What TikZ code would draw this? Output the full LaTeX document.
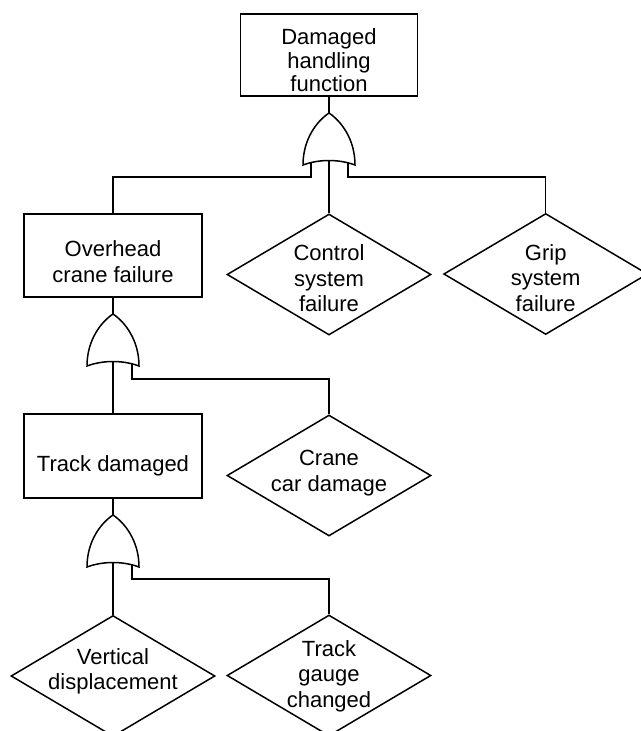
\documentclass[tikz,border=0pt]{standalone}
\usepackage{fontspec}
\setmainfont{Liberation Sans}
\usetikzlibrary{shapes.geometric}
\begin{document}
\begin{tikzpicture}[x=1pt,y=-1pt,line width=1.5pt,
  box/.style={draw, rectangle, inner sep=0pt, minimum width=178pt},
  dia/.style={draw, diamond, inner sep=0pt, aspect=1.69, minimum width=204pt, minimum height=121pt},
  txt/.style={align=center, inner sep=0pt, font=\fontsize{22}{25.5}\selectfont},
  wire/.style={line width=1.5pt},
  orgate/.pic={
    \draw[fill=white] (0,0) .. controls (-12,8) and (-26,26) .. (-26,52)
      .. controls (-10,46) and (10,46) .. (26,52)
      .. controls (26,26) and (12,8) .. (0,0) -- cycle;
    \coordinate (-top) at (0,0);
    \coordinate (-in) at (0,47.5);
    \coordinate (-l) at (-18,49.6);
    \coordinate (-r) at (19,49.6);
  }
]
\useasboundingbox (0,0) rectangle (640,731);

% boxes
\node[box, minimum width=177pt, minimum height=82pt] (top) at (329,55) {};
\node[box, minimum height=83pt] (over) at (113,255.5) {};
\node[box, minimum height=84pt] (track) at (113,456) {};

% diamonds
\node[dia] (ctrl) at (329,274.5) {};
\node[dia] (grip) at (545.7,274) {};
\node[dia] (crane) at (329,475.5) {};
\node[dia] (vert) at (113,676) {};
\node[dia] (gauge) at (329,675.5) {};

% texts
\node[txt, font=\fontsize{22}{23.3}\selectfont] (topt) at (329,60.4) {Damaged\\handling\\function};
\node[txt] (overt) at (113,261.7) {Overhead\\crane failure};
\node[txt] (trackt) at (113,465.6) {Track damaged};
\node[txt] (ctrlt) at (329,278.2) {Control\\system\\failure};
\node[txt] (gript) at (545.7,277.8) {Grip\\system\\failure};
\node[txt] (cranet) at (329,473.2) {Crane\\car damage};
\node[txt] (vertt) at (113,671.1) {Vertical\\displacement};
\node[txt] (gauget) at (329,676) {Track\\gauge\\changed};

% bus levels
\coordinate (bus1) at (0,177);
\coordinate (bus2) at (0,379);
\coordinate (bus3) at (0,579);

% gate positions
\coordinate (g1pos) at (329,113);
\coordinate (g2pos) at (113,314);
\coordinate (g3pos) at (113,515);

% connectors (drawn under gates)
\draw[wire] (top.south) -- (g1pos);
\draw[wire] (g1pos) ++(0,47.5) -- (ctrl.north);
\draw[wire] (over.south) -- (g2pos);
\draw[wire] (g2pos) ++(0,47.5) -- (track.north);
\draw[wire] (track.south) -- (g3pos);
\draw[wire] (g3pos) ++(0,47.5) -- (vert.north);

% gates
\pic (g1) at (g1pos) {orgate};
\pic (g2) at (g2pos) {orgate};
\pic (g3) at (g3pos) {orgate};

\draw[wire] (g1-l) -- (g1-l |- bus1) -| (over.north);
\draw[wire] (g1-r) -- (g1-r |- bus1) -| (grip.north);
\draw[wire] (g2-r) -- (g2-r |- bus2) -| (crane.north);
\draw[wire] (g3-r) -- (g3-r |- bus3) -| (gauge.north);
\end{tikzpicture}
\end{document}
